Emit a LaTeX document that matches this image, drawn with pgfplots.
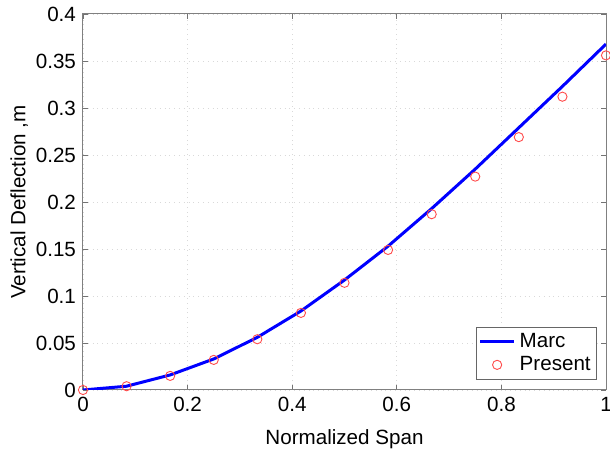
\documentclass[border=0pt]{standalone}
\usepackage{fontspec}
\setmainfont{Liberation Sans}
\usepackage{pgfplots}
\pgfplotsset{compat=1.18}

\begin{document}
\begin{tikzpicture}
\begin{axis}[
  name=ax,
  scale only axis,
  width=261.5pt,
  height=188pt,
  xmin=0, xmax=1,
  ymin=0, ymax=0.4,
  xtick={0,0.2,0.4,0.6,0.8,1},
  ytick={0,0.05,0.1,0.15,0.2,0.25,0.3,0.35,0.4},
  xticklabels={0,0.2,0.4,0.6,0.8,1},
  yticklabels={0,0.05,0.1,0.15,0.2,0.25,0.3,0.35,0.4},
  tick align=inside,
  major tick length=2.5pt,
  tick style={black!55, line width=0.4pt},
  axis line style={black!50, line width=0.5pt},
  grid=major,
  major grid style={black!15, dotted, line width=0.4pt},
  tick label style={font=\fontsize{10.3}{12}\selectfont},
  label style={font=\fontsize{10.3}{12}\selectfont},
  xlabel={Normalized Span},
  ylabel={Vertical Deflection ,m},
  xlabel style={yshift=-2pt},
  ylabel style={yshift=-3pt},
  legend style={font=\fontsize{10.3}{12}\selectfont, at={(0.983,0.027)}, anchor=south east,
    draw=black!60, line width=0.4pt, inner sep=1pt, row sep=-1pt},
  legend cell align=left,
]
\addplot[blue, line width=1.5pt] coordinates {
  (0,0) (0.0833,0.004) (0.1667,0.016) (0.25,0.033) (0.3333,0.056) (0.4167,0.084)
  (0.5,0.117) (0.5833,0.153) (0.6667,0.193) (0.75,0.235) (0.8333,0.279)
  (0.9167,0.323) (1,0.368)
};
\addlegendentry{Marc}
\addplot[only marks, mark=o, mark size=2.3pt, mark options={red!70, line width=0.45pt}] coordinates {
  (0,0) (0.0833,0.004) (0.1667,0.015) (0.25,0.032) (0.3333,0.054) (0.4167,0.082)
  (0.5,0.114) (0.5833,0.149) (0.6667,0.187) (0.75,0.227) (0.8333,0.269)
  (0.9167,0.312) (1,0.356)
};
\addlegendentry{Present}
\end{axis}
\pgfresetboundingbox
\path[use as bounding box] ([shift={(-41.5pt,-30pt)}]ax.south west) rectangle ([shift={(2pt,7pt)}]ax.north east);
\end{tikzpicture}
\end{document}
